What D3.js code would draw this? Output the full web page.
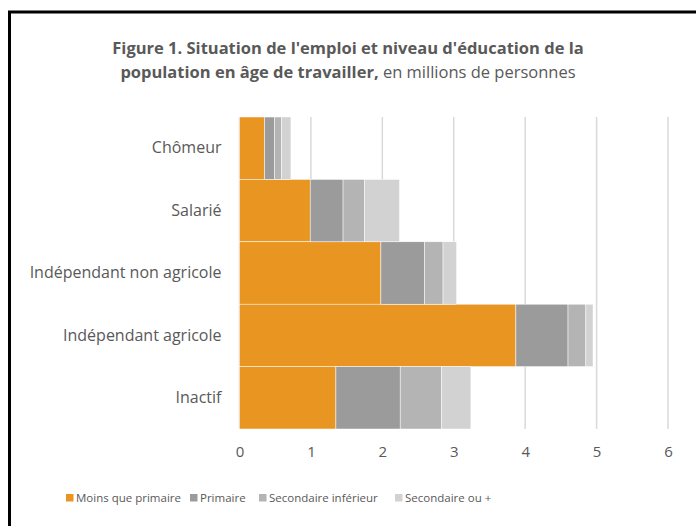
<!DOCTYPE html>
<html>
	<head>
		<meta charset="utf-8">
		<title>Figure 1</title>
		<script src="https://d3js.org/d3.v7.min.js"></script>
		<style>
			body { margin: 0; background: #fff; }
			text { font-family: "Open Sans", sans-serif; fill: #595959; }
		</style>
	</head>
	<body>
		<script>
			var categories = ["Chômeur", "Salarié", "Indépendant non agricole", "Indépendant agricole", "Inactif"];
			var seriesNames = ["Moins que primaire", "Primaire", "Secondaire inférieur", "Secondaire ou +"];
			var moinsPrimaire = [0.35, 0.99, 1.98, 3.87, 1.35];
			var primaire = [0.14, 0.46, 0.61, 0.73, 0.90];
			var secInferieur = [0.10, 0.30, 0.26, 0.25, 0.58];
			var secOuPlus = [0.13, 0.49, 0.19, 0.10, 0.41];
			var xTicks = [0, 1, 2, 3, 4, 5, 6];
			var colors = ["#E89521", "#9B9B9B", "#B4B4B4", "#D2D2D2"];

			var w = 696;
			var h = 526;

			var svg = d3.select("body")
						.append("svg")
						.attr("width", w)
						.attr("height", h);

			// chart frame (cut off at right/bottom like the picture)
			svg.append("rect")
				.attr("x", 9.5)
				.attr("y", 12)
				.attr("width", 720)
				.attr("height", 560)
				.attr("fill", "#fff")
				.attr("stroke", "#000")
				.attr("stroke-width", 3);

			var title = svg.append("text")
				.attr("text-anchor", "middle")
				.style("font-size", "16.5px");
			title.append("tspan")
				.attr("x", 348).attr("y", 54)
				.style("font-weight", "bold")
				.text("Figure 1. Situation de l'emploi et niveau d'éducation de la");
			var t2 = title.append("tspan")
				.attr("x", 348).attr("y", 78);
			t2.append("tspan").style("font-weight", "bold").text("population en âge de travailler,");
			t2.append("tspan").text(" en millions de personnes");

			var table = categories.map(function(c, i) {
				return {cat: c, "Moins que primaire": moinsPrimaire[i], "Primaire": primaire[i],
					"Secondaire inférieur": secInferieur[i], "Secondaire ou +": secOuPlus[i]};
			});
			var stacked = d3.stack().keys(seriesNames)(table);

			var xScale = d3.scaleLinear()
				.domain([0, 6])
				.range([239.5, 668]);

			var yScale = d3.scaleBand()
				.domain(categories)
				.range([117, 429])
				.padding(0);

			// gridlines
			svg.append("g")
				.selectAll("line")
				.data(xTicks)
				.enter()
				.append("line")
				.attr("x1", function(d) { return xScale(d); })
				.attr("x2", function(d) { return xScale(d); })
				.attr("y1", 117)
				.attr("y2", 429)
				.attr("stroke", "#D9D9D9")
				.attr("stroke-width", 1.5);

			svg.append("g")
				.selectAll("g")
				.data(stacked)
				.enter()
				.append("g")
				.attr("fill", function(d, i) { return colors[i]; })
				.selectAll("rect")
				.data(function(d) { return d; })
				.enter()
				.append("rect")
				.attr("x", function(d) { return xScale(d[0]); })
				.attr("width", function(d) { return xScale(d[1]) - xScale(d[0]); })
				.attr("y", function(d) { return yScale(d.data.cat); })
				.attr("height", yScale.bandwidth())
				.attr("stroke", "#fff")
				.attr("stroke-width", 0.5);

			// x axis labels
			var xAxis = d3.axisBottom(xScale)
				.tickValues(xTicks)
				.tickFormat(d3.format("d"))
				.tickSize(0)
				.tickPadding(17);
			var xg = svg.append("g")
				.attr("transform", "translate(0,429)")
				.call(xAxis);
			xg.select(".domain").remove();
			xg.selectAll("text")
				.style("font-family", "'Open Sans', sans-serif")
				.style("font-size", "15px")
				.attr("fill", "#595959");

			// y axis labels
			var yAxis = d3.axisLeft(yScale)
				.tickSize(0)
				.tickPadding(18);
			var yg = svg.append("g")
				.attr("transform", "translate(239.5,0)")
				.call(yAxis);
			yg.select(".domain").remove();
			yg.selectAll("text")
				.style("font-family", "'Open Sans', sans-serif")
				.style("font-size", "16px")
				.attr("fill", "#595959");

			// legend
			var legendX = [66, 190, 259, 395];
			var legend = svg.append("g")
				.selectAll("g")
				.data(seriesNames)
				.enter()
				.append("g")
				.attr("transform", function(d, i) { return "translate(" + legendX[i] + ",494)"; });
			legend.append("rect")
				.attr("width", 7.5)
				.attr("height", 7.5)
				.attr("fill", function(d, i) { return colors[i]; });
			legend.append("text")
				.attr("x", 10)
				.attr("y", 4)
				.attr("dy", "0.35em")
				.style("font-size", "11.5px")
				.text(function(d) { return d; });
		</script>
	</body>
</html>
